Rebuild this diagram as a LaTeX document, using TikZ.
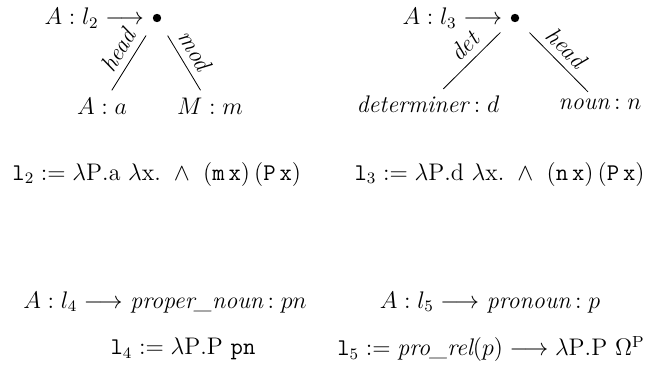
\documentclass[tikz,border=0pt]{standalone}
\usepackage{amsmath}
\usetikzlibrary{positioning}

\begin{document}
\begin{tikzpicture}[
  x=0.5pt, y=-0.5pt,
  every node/.style={font=\fontsize{12}{14}\selectfont},
  term/.style={inner sep=1pt},
  hub/.style={circle, fill, inner sep=0pt, minimum size=4.2pt},
  arc/.style={thin, shorten <=8pt, shorten >=3pt},
  role/.style={midway, sloped, above, inner sep=3.5pt, font=\fontsize{12}{14}\selectfont\itshape}
]
\useasboundingbox (0,0) rectangle (651,369);

% tree for l2
\node[hub] (dot2) at (157,18) {};
\node[term, left=3pt of dot2] (lhs2) {$A:l_2\longrightarrow$};
\node[term] (a2) at (102,106) {$A:a$};
\node[term] (m2) at (210,106) {$M:m$};
\draw[arc] (dot2) -- node[role] {head} (a2);
\draw[arc] (dot2) -- node[role] {mod} (m2);

% tree for l3
\node[hub] (dot3) at (515,18) {};
\node[term, left=3pt of dot3] (lhs3) {$A:l_3\longrightarrow$};
\node[term] (d3) at (428,104) {\textit{determiner}$\,:d$};
\node[term] (n3) at (600,104) {\textit{noun}$\,:n$};
\draw[arc] (dot3) -- node[role] {det} (d3);
\draw[arc] (dot3) -- node[role] {head} (n3);

% lambda terms
\node[term, anchor=west] (f2) at (10,174) {$\mathtt{l}_2\mathrel{:=}\lambda\mathrm{P.a}\ \lambda\mathrm{x.}\ \wedge\ \mathtt{(m\,x)\,(P\,x)}$};
\node[term, anchor=east] (f3) at (647,174) {$\mathtt{l}_3\mathrel{:=}\lambda\mathrm{P.d}\ \lambda\mathrm{x.}\ \wedge\ \mathtt{(n\,x)\,(P\,x)}$};

% single-word rules
\node[term] (r4) at (165,302) {$A:l_4\longrightarrow$ \textit{proper\_noun}$\,:pn$};
\node[term] (r5) at (490,302) {$A:l_5\longrightarrow$ \textit{pronoun}$\,:p$};
\node[term] (f4) at (183,349) {$\mathtt{l}_4\mathrel{:=}\lambda\mathrm{P.P}\ \mathtt{pn}$};
\node[term, anchor=east] (f5) at (647,349) {$\mathtt{l}_5\mathrel{:=}\textit{pro\_rel}(p)\longrightarrow\lambda\mathrm{P.P}\ \Omega^{\mathrm{P}}$};
\end{tikzpicture}
\end{document}
